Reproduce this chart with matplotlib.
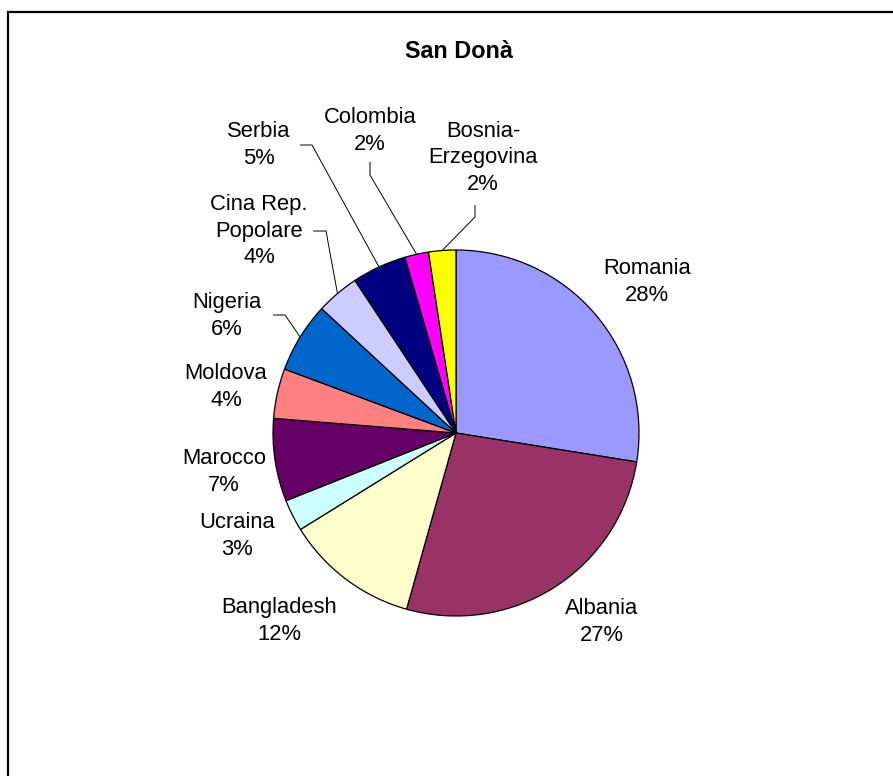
import numpy as np
import matplotlib
matplotlib.use("Agg")
import matplotlib.pyplot as plt

# ---- data ----
title = "San Donà"
countries = ["Romania", "Albania", "Bangladesh", "Ucraina", "Marocco", "Moldova",
             "Nigeria", "Cina Rep.\nPopolare", "Serbia", "Colombia", "Bosnia-\nErzegovina"]
shares = [27.5, 26.8, 11.8, 2.8, 7.3, 4.4, 6.2, 3.8, 4.8, 2.1, 2.4]
colors = ["#9999FF", "#993366", "#FFFFCC", "#CCFFFF", "#660066", "#FF8080",
          "#0066CC", "#CCCCFF", "#000080", "#FF00FF", "#FFFF00"]

# ---- layout (pixel coordinates, y measured from top) ----
W, H = 893, 776
center_px = (456, 433)
radius_px = 183
label_pos = [(647, 282), (602, 622), (279, 621), (237, 536), (224, 472), (226, 387),
             (227, 316), (259, 231), (259, 145), (370, 131), (483, 158)]
# leader elbows: (start point near text, elbow point) or None
leaders = [None, None, None, None, None, None,
           ((273, 315), (285, 315)),
           ((313, 231), (326, 231)),
           ((300, 145), (312, 145)),
           ((370, 162), (370, 175)),
           ((475, 205), (475, 217))]

FONT = "Liberation Sans"

fig = plt.figure(figsize=(W / 100, H / 100), dpi=100)
ax = fig.add_axes([0, 0, 1, 1])

def Y(y):
    return H - y

cx, cy = center_px[0], Y(center_px[1])
wedges, _ = ax.pie(shares, colors=colors, startangle=90, counterclock=False,
                   center=(cx, cy), radius=radius_px, frame=True,
                   wedgeprops=dict(edgecolor="black", linewidth=0.9))
ax.set_xlim(0, W)
ax.set_ylim(0, H)
ax.set_aspect("equal")
ax.axis("off")

total = sum(shares)
for name, v, (lx, ly), w, ld in zip(countries, shares, label_pos, wedges, leaders):
    pct = 100 * v / total
    ax.text(lx, Y(ly), f"{name}\n{pct:.0f}%", ha="center", va="center",
            multialignment="center", fontsize=15.8, family=FONT, linespacing=1.36,
            color="black")
    if ld is not None:
        mid = np.deg2rad((w.theta1 + w.theta2) / 2)
        ex, ey = cx + radius_px * np.cos(mid), cy + radius_px * np.sin(mid)
        (sx, sy), (bx, by) = ld
        ax.plot([sx, bx, ex], [Y(sy), Y(by), ey], color="black", lw=0.7,
                solid_capstyle="butt")

ax.text(459, Y(52), title, ha="center", va="center", fontsize=16.8,
        fontweight="bold", family=FONT)

# chart border (extends beyond the image on right and bottom)
ax.plot([8, 8, W + 10], [-10, Y(12), Y(12)], color="black", lw=1.6,
        solid_joinstyle="miter", clip_on=False)

fig.savefig("out.png", dpi=100, facecolor="white")
